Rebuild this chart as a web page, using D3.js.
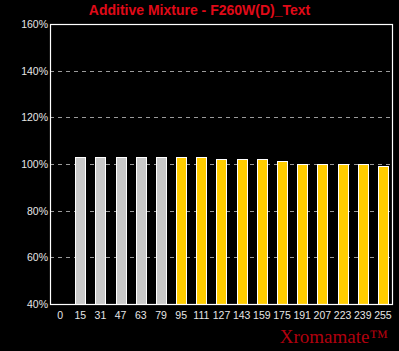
<!DOCTYPE html>
<html><head><meta charset="utf-8">
<script src="https://cdn.jsdelivr.net/npm/d3@7"></script>
<style>html,body{margin:0;padding:0;background:#000;}svg{display:block;}</style>
</head><body>
<script>
const categories = ["0","15","31","47","63","79","95","111","127","143","159","175","191","207","223","239","255"];
const values = [0,103,103,103,103,103,103,103,102,102,102,101.3,99.9,99.9,99.9,99.9,99];
const barColors = ["#c8c8c8","#c8c8c8","#c8c8c8","#c8c8c8","#c8c8c8","#c8c8c8","#ffcc00","#ffcc00","#ffcc00","#ffcc00","#ffcc00","#ffcc00","#ffcc00","#ffcc00","#ffcc00","#ffcc00","#ffcc00"];
const yTicks = [40,60,80,100,120,140,160];
const title = "Additive Mixture - F260W(D)_Text";
const brand = "Xromamate\u2122";

const W = 399, H = 351;
const m = {left:50, top:24, right:6, bottom:47};
const svg = d3.select("body").append("svg").attr("width",W).attr("height",H).style("background","#000");

const x = d3.scaleBand().domain(categories).range([m.left, W-m.right]).paddingInner(0.5).paddingOuter(0.25);
const y = d3.scaleLinear().domain([40,160]).range([H-m.bottom, m.top]);

// grid
svg.append("g").selectAll("line").data(yTicks.filter(t=>t>40 && t<160)).join("line")
  .attr("x1",m.left).attr("x2",W-m.right)
  .attr("y1",d=>Math.round(y(d))+0.5).attr("y2",d=>Math.round(y(d))+0.5)
  .attr("stroke","#9a9a9a").attr("stroke-width",1).attr("stroke-dasharray","4,4");

// bars
svg.append("g").selectAll("rect").data(categories.map((c,i)=>({c,v:values[i],col:barColors[i]})).filter(d=>d.v>40)).join("rect")
  .attr("x",d=>Math.round(x(d.c))+0.5)
  .attr("y",d=>Math.round(y(d.v))+0.5)
  .attr("width",Math.round(x.bandwidth()))
  .attr("height",d=>Math.round(y(40))-Math.round(y(d.v)))
  .attr("fill",d=>d.col).attr("stroke","#fff").attr("stroke-width",1);

// frame
svg.append("rect").attr("x",m.left+0.5).attr("y",Math.round(y(160))+0.5)
  .attr("width",W-m.right-m.left-1).attr("height",Math.round(y(40))-Math.round(y(160)))
  .attr("fill","none").attr("stroke","#fff").attr("stroke-width",1.2);

// y axis labels
const yAxis = d3.axisLeft(y).tickValues(yTicks).tickFormat(d=>d+"%").tickSize(0).tickPadding(2);
const ga = svg.append("g").attr("transform",`translate(${m.left},0)`).call(yAxis);
ga.select(".domain").remove();
ga.selectAll("text").attr("fill","#e6e6e6").style("font-family","Arial, 'Liberation Sans', sans-serif").style("font-size","10.5px");

// x axis labels
const xAxis = d3.axisBottom(x).tickSize(0).tickPadding(8);
const gx = svg.append("g").attr("transform",`translate(0,${H-m.bottom})`).call(xAxis);
gx.select(".domain").remove();
gx.selectAll("text").attr("fill","#e6e6e6").style("font-family","Arial, 'Liberation Sans', sans-serif").style("font-size","10.5px");

// title
svg.append("text").attr("x",199.5).attr("y",15).attr("text-anchor","middle")
  .attr("fill","#e00a18").style("font-family","Arial, 'Liberation Sans', sans-serif").style("font-weight","bold").style("font-size","14px")
  .text(title);

// brand
svg.append("text").attr("x",388).attr("y",343).attr("text-anchor","end")
  .attr("fill","#b0000e").style("font-family","'Liberation Serif', 'Times New Roman', serif").style("font-size","19px")
  .text(brand);
</script>
</body></html>
